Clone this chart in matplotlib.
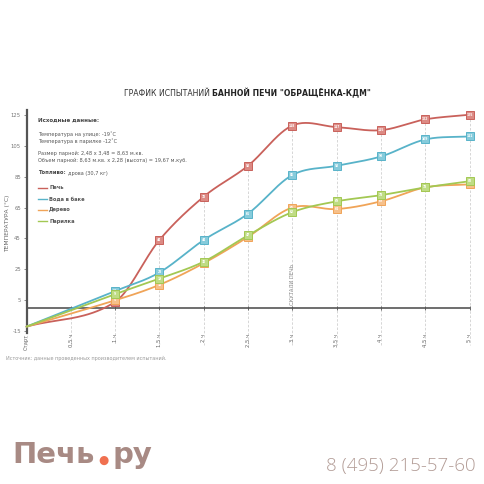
import numpy as np
import matplotlib
matplotlib.use("Agg")
import matplotlib.pyplot as plt

# ---------------- data ----------------
categories = ["Старт", "0,5 ч", "1 ч", "1,5 ч", "2 ч", "2,5 ч", "3 ч", "3,5 ч", "4 ч", "4,5 ч", "5 ч"]
cat_x = [0, 0.5, 1, 1.5, 2, 2.5, 3, 3.5, 4, 4.5, 5]
data_x = [0, 1, 1.5, 2, 2.5, 3, 3.5, 4, 4.5, 5]

pech = [-12, 4, 44, 72, 92, 118, 117, 115, 122, 125]
voda = [-12, 11, 23, 44, 61, 86, 92, 98, 109, 111]
derevo = [-12, 5, 15, 29, 46, 65, 64, 69, 78, 80]
parilka = [-12, 9, 19, 30, 47, 62, 69, 73, 78, 82]

series_names = ["Печь", "Вода в баке", "Дерево", "Парилка"]
series_vals = [pech, voda, derevo, parilka]
line_colors = ["#c9615b", "#58b3c9", "#f0a458", "#a3c853"]
fill_colors = ["#dc8a84", "#86cbdb", "#f6c08a", "#bfdc84"]

yticks = [-15, 5, 25, 45, 65, 85, 105, 125]


def spline(xs, ys, n=40):
    xs = np.asarray(xs, float)
    ys = np.asarray(ys, float)
    m = np.zeros_like(ys)
    m[0] = (ys[1] - ys[0]) / (xs[1] - xs[0])
    m[-1] = (ys[-1] - ys[-2]) / (xs[-1] - xs[-2])
    for i in range(1, len(xs) - 1):
        m[i] = (ys[i + 1] - ys[i - 1]) / (xs[i + 1] - xs[i - 1])
    ox, oy = [], []
    for i in range(len(xs) - 1):
        h = xs[i + 1] - xs[i]
        t = np.linspace(0, 1, n, endpoint=False)
        h00 = 2 * t**3 - 3 * t**2 + 1
        h10 = t**3 - 2 * t**2 + t
        h01 = -2 * t**3 + 3 * t**2
        h11 = t**3 - t**2
        ox.append(xs[i] + t * h)
        oy.append(h00 * ys[i] + h10 * h * m[i] + h01 * ys[i + 1] + h11 * h * m[i + 1])
    ox.append([xs[-1]])
    oy.append([ys[-1]])
    return np.concatenate(ox), np.concatenate(oy)


W = H = 484
fig = plt.figure(figsize=(4.84, 4.84), dpi=100)
fig.patch.set_facecolor("white")

left_px, right_px = 26.5, 469.5
top_px, bot_px = 110.1, 332.8
ax = fig.add_axes([left_px / W, 1 - bot_px / H, (right_px - left_px) / W, (bot_px - top_px) / H])
ax.set_xlim(0, 5)
ax.set_ylim(-16, 128)
ax.set_facecolor("none")

for s in ["top", "right", "bottom"]:
    ax.spines[s].set_visible(False)
ax.spines["left"].set_color("#555555")
ax.spines["left"].set_linewidth(1.6)

ax.set_yticks(yticks)
ax.set_yticklabels([str(v) for v in yticks], fontsize=3.8, color="#777777")
ax.tick_params(axis="y", length=2, width=0.6, color="#777777", pad=2)

ax.set_xticks(cat_x)
ax.set_xticklabels(categories, rotation=90, fontsize=3.8, color="#666666", va="top")
ax.tick_params(axis="x", length=0, pad=1)

# zero line
ax.axhline(0, color="#555555", lw=1.2, zorder=2)
ax.plot(cat_x, [0] * len(cat_x), "|", color="#555555", ms=2.5, mew=0.6, zorder=2)

# curves
curves = [spline(data_x, v) for v in series_vals]

# drop lines
for cx in cat_x:
    tops = [np.interp(cx, c[0], c[1]) for c in curves]
    ax.plot([cx, cx], [max(tops), -24], ls=(0, (3, 2)), color="#d0d0d0", lw=0.6,
            zorder=1, clip_on=False)

# which marker labels are covered by a later-drawn marker
px_per_unit = (bot_px - top_px) / 144.0
hidden = set()
for si, vals in enumerate(series_vals):
    for j in range(1, len(vals)):
        for sj in range(si + 1, len(series_vals)):
            if abs(series_vals[sj][j] - vals[j]) * px_per_unit < 3.0:
                hidden.add((si, j))

for si, (name, vals, lc, fc, (cx, cy)) in enumerate(
        zip(series_names, series_vals, line_colors, fill_colors, curves)):
    ax.plot(cx, cy, color=lc, lw=1.3, zorder=3 + si * 0.1, clip_on=False, solid_capstyle="round")
    ax.plot(data_x[1:], vals[1:], "s", ms=5.2, mfc=fc, mec=lc, mew=0.7,
            zorder=4 + si * 0.1, clip_on=False)
    for j in range(1, len(vals)):
        if (si, j) in hidden:
            continue
        ax.text(data_x[j], vals[j], str(vals[j]), fontsize=2.2, color="white", ha="center",
                va="center", zorder=4.05 + si * 0.1, fontweight="bold")

# annotation
ax.text(3, 2, "СКУТАЛИ ПЕЧЬ", rotation=90, fontsize=3.8, color="#888888",
        ha="center", va="bottom", zorder=2)

# y label
fig.text(8 / W, 1 - 223 / H, "ТЕМПЕРАТУРА (°C)", rotation=90, fontsize=4.3,
         color="#666666", ha="center", va="center")

# title
t1 = fig.text(124 / W, 1 - 93 / H, "ГРАФИК ИСПЫТАНИЙ ", fontsize=5.6, color="#333333",
              ha="left", va="center")
fig.canvas.draw()
bb = t1.get_window_extent()
fig.text(bb.x1 / W, 1 - 93 / H, "БАННОЙ ПЕЧИ \"ОБРАЩЁНКА-КДМ\"", fontsize=5.6,
         color="#222222", fontweight="bold", ha="left", va="center")

# info block
info_x = 38 / W
fig.text(info_x, 1 - 120 / H, "Исходные данные:", fontsize=4.0, fontweight="bold",
         color="#444444", va="center")
fig.text(info_x, 1 - 134 / H, "Температура на улице: -19˚С", fontsize=3.6, color="#555555", va="center")
fig.text(info_x, 1 - 141 / H, "Температура в парилке -12˚С", fontsize=3.6, color="#555555", va="center")
fig.text(info_x, 1 - 153 / H, "Размер парной: 2,48 х 3,48 = 8,63 м.кв.", fontsize=3.6, color="#555555", va="center")
fig.text(info_x, 1 - 160 / H, "Объем парной: 8,63 м.кв. х 2,28 (высота) = 19,67 м.куб.", fontsize=3.6,
         color="#555555", va="center")
t2 = fig.text(info_x, 1 - 173 / H, "Топливо: ", fontsize=3.8, fontweight="bold", color="#444444", va="center")
fig.canvas.draw()
bb2 = t2.get_window_extent()
fig.text(bb2.x1 / W, 1 - 173 / H, "дрова (30,7 кг)", fontsize=3.6, color="#555555", va="center")

# legend
leg_y = [187.5, 199, 209.5, 221]
for name, lc, y in zip(series_names, line_colors, leg_y):
    fig.add_artist(matplotlib.lines.Line2D([38 / W, 47 / W], [1 - y / H, 1 - y / H], color=lc, lw=1.0))
    fig.text(49 / W, 1 - y / H, name, fontsize=3.7, fontweight="bold", color="#555555", va="center")

# source
fig.text(6 / W, 1 - 358 / H, "Источник: данные проведенных производителем испытаний.",
         fontsize=3.5, color="#999999", va="center")

# logo
logo_c = "#a88a84"
lt = fig.text(12 / W, 1 - 455 / H, "Печь", fontsize=21, fontweight="bold", color=logo_c,
              ha="left", va="center", family="DejaVu Sans")
fig.canvas.draw()
lb = lt.get_window_extent()
fig.text(lb.x1 / W + 9 / W, 1 - 460 / H, "●", fontsize=8.5, color="#f07050", ha="center", va="center")
fig.text(lb.x1 / W + 18 / W, 1 - 455 / H, "ру", fontsize=21, fontweight="bold", color=logo_c,
         ha="left", va="center", family="DejaVu Sans")

# phone
fig.text(476 / W, 1 - 466 / H, "8 (495) 215-57-60", fontsize=13.5, color="#b39d97",
         ha="right", va="center", family="Open Sans", fontweight="light")

fig.savefig("out.png", dpi=100, facecolor="white")
